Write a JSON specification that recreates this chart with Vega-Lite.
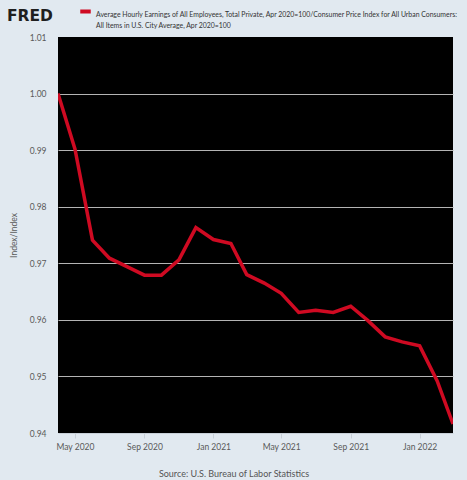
{
  "$schema": "https://vega.github.io/schema/vega-lite/v6.json",
  "width": 395,
  "height": 396,
  "autosize": {"type": "none"},
  "padding": {"left": 58, "top": 37, "right": 14, "bottom": 47},
  "background": "#e1e9f0",
  "title": {
    "text": "FRED",
    "anchor": "start",
    "frame": "group",
    "font": "DejaVu Sans",
    "fontSize": 15.5,
    "fontWeight": "bold",
    "color": "#1f1f1f",
    "dx": -51,
    "baseline": "alphabetic",
    "offset": 0,
    "dy": 32
  },
  "data": {
    "values": [
      {"date": "2020-04-01T00:00:00", "value": 1.0000},
      {"date": "2020-05-01T00:00:00", "value": 0.9902},
      {"date": "2020-06-01T00:00:00", "value": 0.9741},
      {"date": "2020-07-01T00:00:00", "value": 0.9709},
      {"date": "2020-08-01T00:00:00", "value": 0.9694},
      {"date": "2020-09-01T00:00:00", "value": 0.9679},
      {"date": "2020-10-01T00:00:00", "value": 0.9679},
      {"date": "2020-11-01T00:00:00", "value": 0.9706},
      {"date": "2020-12-01T00:00:00", "value": 0.9763},
      {"date": "2021-01-01T00:00:00", "value": 0.9742},
      {"date": "2021-02-01T00:00:00", "value": 0.9735},
      {"date": "2021-03-01T00:00:00", "value": 0.9680},
      {"date": "2021-04-01T00:00:00", "value": 0.9665},
      {"date": "2021-05-01T00:00:00", "value": 0.9647},
      {"date": "2021-06-01T00:00:00", "value": 0.9613},
      {"date": "2021-07-01T00:00:00", "value": 0.9617},
      {"date": "2021-08-01T00:00:00", "value": 0.9613},
      {"date": "2021-09-01T00:00:00", "value": 0.9624},
      {"date": "2021-10-01T00:00:00", "value": 0.9599},
      {"date": "2021-11-01T00:00:00", "value": 0.9570},
      {"date": "2021-12-01T00:00:00", "value": 0.9561},
      {"date": "2022-01-01T00:00:00", "value": 0.9554},
      {"date": "2022-02-01T00:00:00", "value": 0.9492},
      {"date": "2022-03-01T00:00:00", "value": 0.9416}
    ]
  },
  "transform": [
    {"calculate": "'Average Hourly Earnings of All Employees, Total Private, Apr 2020=100/Consumer Price Index for All Urban Consumers:|All Items in U.S. City Average, Apr 2020=100'", "as": "series"}
  ],
  "mark": {"type": "line", "strokeWidth": 3.5, "clip": true},
  "encoding": {
    "x": {
      "field": "date",
      "type": "temporal",
      "scale": {"domain": ["2020-04-01T00:00:00", "2022-03-01T00:00:00"], "nice": false},
      "axis": {
        "title": "Source: U.S. Bureau of Labor Statistics",
        "titleX": 175.5,
        "titleY": 43,
        "titleAnchor": null,
        "titleAlign": "center",
        "titleBaseline": "alphabetic",
        "titleFont": "Lato",
        "titleFontSize": 9,
        "titleFontWeight": "normal",
        "titleColor": "#555555",
        "values": [
          {"year": 2020, "month": 5, "date": 1},
          {"year": 2020, "month": 9, "date": 1},
          {"year": 2021, "month": 1, "date": 1},
          {"year": 2021, "month": 5, "date": 1},
          {"year": 2021, "month": 9, "date": 1},
          {"year": 2022, "month": 1, "date": 1}
        ],
        "format": "%b %Y",
        "labelFont": "Lato",
        "labelFontSize": 8.5,
        "labelColor": "#595959",
        "labelPadding": 4,
        "tickColor": "#c8d0d8",
        "tickSize": 5,
        "domainColor": "#c8d0d8",
        "grid": false
      }
    },
    "y": {
      "field": "value",
      "type": "quantitative",
      "scale": {"domain": [0.94, 1.01], "nice": false, "zero": false},
      "axis": {
        "title": "Index/Index",
        "titleFont": "Lato",
        "titleFontSize": 8.5,
        "titleFontWeight": "normal",
        "titleColor": "#595959",
        "titlePadding": 11,
        "values": [0.94, 0.95, 0.96, 0.97, 0.98, 0.99, 1.0, 1.01],
        "format": ".2f",
        "labelFont": "Lato",
        "labelFontSize": 8.5,
        "labelColor": "#595959",
        "labelPadding": 12,
        "ticks": false,
        "domain": false,
        "grid": true,
        "gridColor": "#b4b4b4",
        "gridOpacity": {"condition": {"test": "datum.value > 1.005 || datum.value < 0.945", "value": 0}, "value": 1}
      }
    },
    "color": {
      "field": "series",
      "type": "nominal",
      "scale": {"range": ["#cf0a22"]},
      "legend": {
        "title": null,
        "orient": "none",
        "legendX": 20,
        "legendY": -33,
        "padding": 0,
        "labelExpr": "split(datum.label, '|')",
        "labelFont": "Lato",
        "labelFontSize": 6.9,
        "labelColor": "#333333",
        "labelLimit": 0,
        "labelBaseline": "top",
        "labelOffset": 3,
        "symbolType": "stroke",
        "symbolStrokeWidth": 4,
        "symbolSize": 110
      }
    }
  },
  "config": {
    "view": {"fill": "#000000", "stroke": null},
    "style": {"guide-label": {"lineHeight": 11}}
  }
}
